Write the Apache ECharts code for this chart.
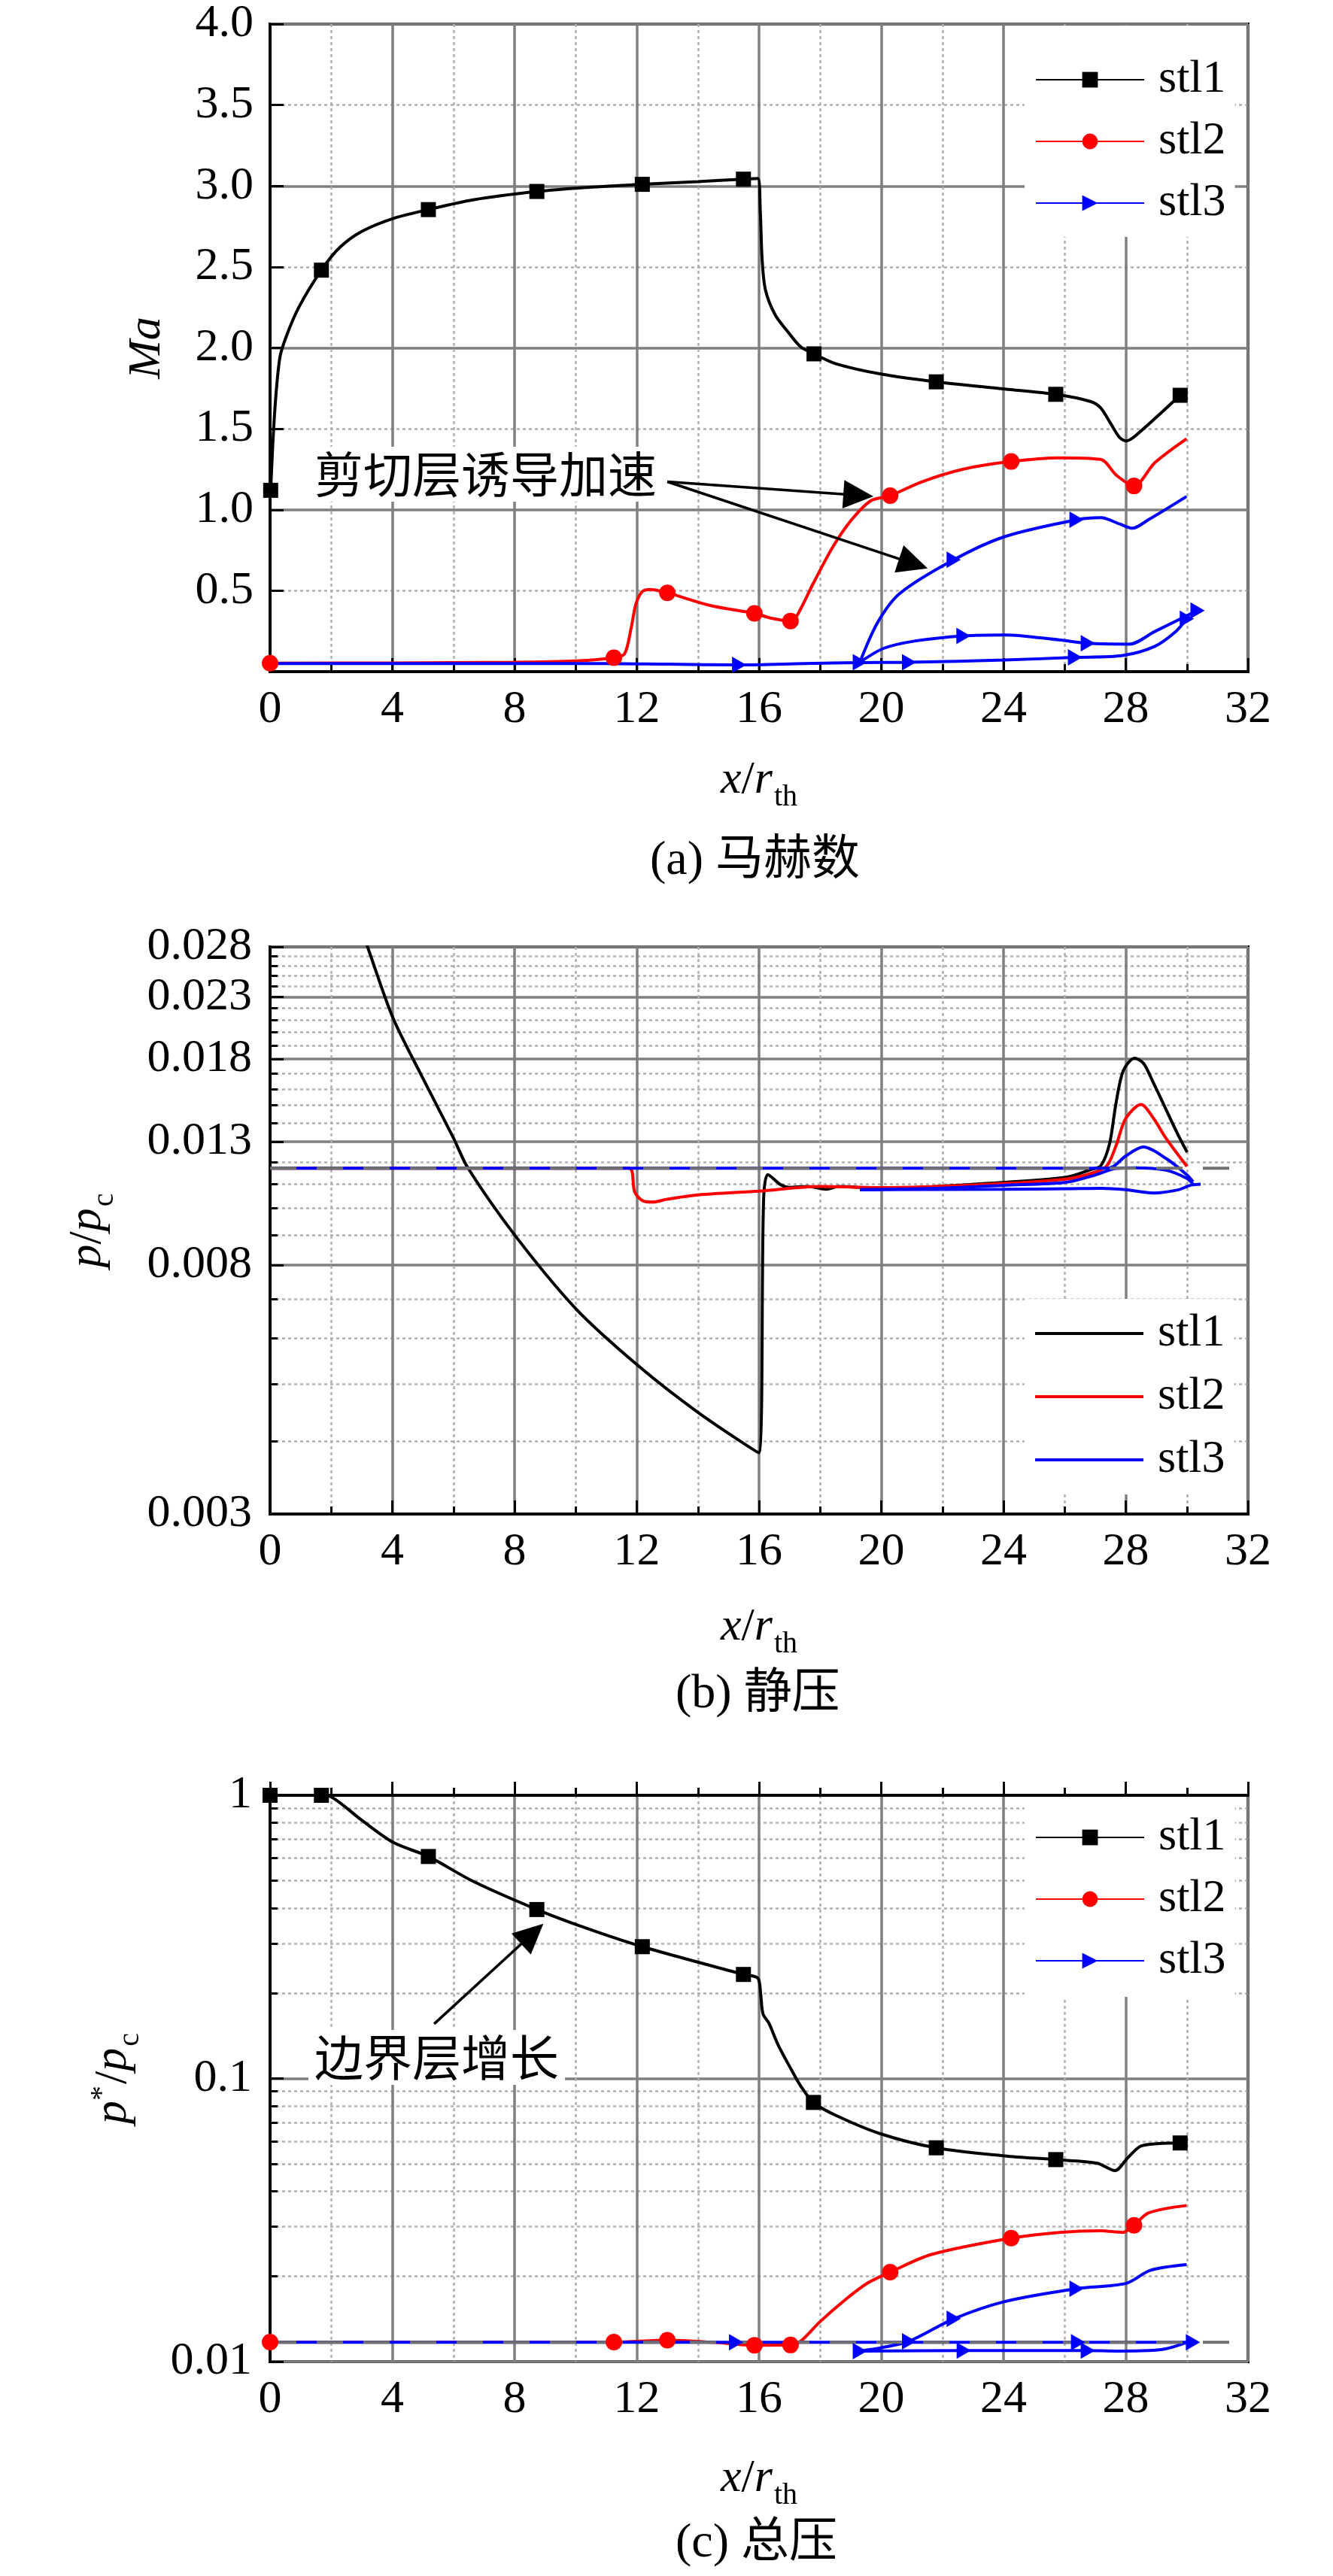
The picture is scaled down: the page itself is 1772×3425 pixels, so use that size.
<!DOCTYPE html>
<html>
<head>
<meta charset="UTF-8">
<title>stl Ma / p / p*</title>
<script src="https://cdn.jsdelivr.net/npm/echarts@6/dist/echarts.min.js"></script>
<style>html,body{margin:0;padding:0;background:#fff}</style>
</head>
<body>
<div id="main" style="width:1772px;height:3425px"></div>
<script type="text/javascript">
// ---------- (a) Ma ----------
var maStl1 = [[0.02,1.12],[0.15,1.6],[0.32,1.94],[0.53,2.07],[0.94,2.25],[1.68,2.48],[2.28,2.62],[3.01,2.72],[4.04,2.8],[5.18,2.854],[6.64,2.914],[8.73,2.966],[10.26,2.99],[12.18,3.01],[14.0,3.027],[15.49,3.042],[15.96,3.047],[16.04,2.85],[16.1,2.55],[16.21,2.358],[16.53,2.203],[16.95,2.098],[17.36,2.007],[17.8,1.963],[18.51,1.902],[20.02,1.837],[21.8,1.79],[24.04,1.746],[25.71,1.713],[26.86,1.668],[27.18,1.629],[27.49,1.538],[27.8,1.446],[28.01,1.425],[28.33,1.459],[29.78,1.707]];
var maStl1Mk = [[0.02,1.12],[1.68,2.48],[5.18,2.854],[8.73,2.966],[12.18,3.01],[15.49,3.042],[17.8,1.963],[21.8,1.79],[25.71,1.713],[29.78,1.707]];
var maStl2 = [[0,0.052],[4,0.054],[8,0.058],[10,0.066],[11.25,0.086],[11.6,0.11],[11.82,0.274],[11.97,0.417],[12.18,0.495],[12.44,0.508],[13.0,0.487],[14.4,0.409],[15.85,0.36],[16.4,0.33],[17.03,0.313],[17.26,0.352],[17.78,0.547],[18.41,0.769],[19.03,0.938],[19.66,1.056],[20.29,1.087],[21.33,1.173],[22.69,1.251],[24.25,1.298],[25.82,1.321],[27.18,1.311],[27.7,1.212],[28.27,1.147],[28.95,1.29],[29.99,1.438]];
var maStl2Mk = [[0,0.052],[11.25,0.086],[13.0,0.487],[15.85,0.36],[17.03,0.313],[20.29,1.087],[24.25,1.298],[28.27,1.147]];
var maStl3a = [[0,0.05],[6,0.05],[11,0.05],[13,0.046],[15.35,0.042],[17.5,0.05],[19.3,0.056],[20.91,0.058],[24.04,0.072],[26.34,0.088],[27.9,0.1],[28.95,0.156],[29.65,0.25],[30.0,0.326]];
var maStl3b = [[19.3,0.058],[20.08,0.144],[21.12,0.19],[22.69,0.221],[24.04,0.227],[25.82,0.196],[26.76,0.175],[28.12,0.17],[28.95,0.248],[30.35,0.378]];
var maStl3c = [[19.3,0.058],[19.87,0.3],[20.6,0.482],[22.37,0.691],[24.04,0.834],[26.39,0.938],[27.18,0.951],[27.8,0.912],[28.22,0.886],[28.74,0.938],[29.99,1.082]];
var maStl3Mk = [[15.35,0.042],[19.3,0.058],[20.91,0.058],[26.34,0.088],[30.0,0.326],[30.35,0.378],[26.76,0.175],[22.69,0.221],[22.37,0.691],[26.39,0.938]];
var maYLabels = [0.5,1,1.5,2,2.5,3,3.5,4];
var maArrowFrom = [13.0,1.173];
var maArrowTo = [[19.25,1.089],[21.05,0.667]];

// ---------- (b) p/pc ----------
var pStl1 = [[3.0,0.0298],[3.19,0.028],[4.01,0.02124],[4.95,0.01689],[5.99,0.01323],[6.48,0.01171],[8.02,0.00898],[10.0,0.00674],[12.03,0.00539],[14.01,0.004475],[15.99,0.00382],[16.15,0.01036],[16.29,0.01142],[16.7,0.01098],[17.0,0.01086],[17.6,0.0109],[18.2,0.01078],[18.6,0.0109],[20.0,0.01081],[24.02,0.01108],[26.04,0.0113],[26.86,0.01165],[27.18,0.01182],[27.47,0.0129],[27.68,0.01512],[27.92,0.0172],[28.29,0.01806],[28.58,0.0177],[28.91,0.01637],[29.32,0.01475],[29.69,0.01343],[30.01,0.01247]];
var pStl2 = [[0,0.01171],[11.75,0.01171],[11.93,0.01067],[12.2,0.0103],[12.53,0.01025],[12.97,0.01036],[14.01,0.01054],[15.99,0.0107],[18,0.0109],[20,0.01085],[24.02,0.01103],[26.04,0.01122],[26.86,0.01147],[27.37,0.0118],[27.68,0.01279],[28.0,0.01425],[28.5,0.01505],[28.91,0.01425],[29.32,0.01317],[30.0,0.0118]];
var pStl3a = [[0,0.01171],[27.3,0.01171],[27.6,0.0118],[28.0,0.01229],[28.58,0.01273],[29.32,0.01217],[30.0,0.01141],[30.2,0.0111]];
var pStl3b = [[19.3,0.01076],[22,0.01083],[24.02,0.01095],[26.04,0.01108],[27.0,0.0114],[27.68,0.0117],[28.3,0.01173],[29.32,0.01162],[30.0,0.01125],[30.2,0.011]];
var pStl3c = [[19.3,0.01076],[24.02,0.01078],[26.04,0.0108],[27.2,0.01082],[28.0,0.01076],[28.9,0.01062],[29.7,0.01075],[30.14,0.01096],[30.45,0.011]];
var pRef = [[0,0.01171],[32,0.01171]];
var pMajor = [0.003,0.008,0.013,0.018,0.023,0.028];
var pMinor = [0.004,0.005,0.006,0.007,0.009,0.010,0.011,0.012,0.014,0.015,0.016,0.017,0.019,0.020,0.021,0.022,0.024,0.025,0.026,0.027];

// ---------- (c) p*/pc ----------
var ptStl1 = [[0,1.0],[1.68,1.0],[1.97,0.991],[3.01,0.815],[4.04,0.681],[5.18,0.608],[6.64,0.497],[8.73,0.395],[10.26,0.342],[12.18,0.292],[15.49,0.233],[15.96,0.226],[16.05,0.2],[16.13,0.169],[16.32,0.157],[16.63,0.131],[17.05,0.1078],[17.36,0.0942],[17.78,0.0823],[18.51,0.0741],[19.97,0.0638],[21.8,0.0569],[24.04,0.0533],[25.71,0.0517],[27.07,0.0502],[27.65,0.0473],[28.06,0.0524],[28.53,0.0579],[29.78,0.0592]];
var ptStl1Mk = [[0,1.0],[1.68,1.0],[5.18,0.608],[8.73,0.395],[12.18,0.292],[15.49,0.233],[17.78,0.0823],[21.8,0.0569],[25.71,0.0517],[29.78,0.0592]];
var ptStl2 = [[0,0.01172],[11.25,0.01172],[13.0,0.0119],[14.5,0.0117],[15.85,0.01143],[17.03,0.01145],[17.36,0.0118],[17.99,0.01382],[18.82,0.01654],[19.55,0.01894],[20.29,0.0207],[21.64,0.0239],[24.25,0.0273],[25.82,0.0286],[27.18,0.029],[27.9,0.0286],[28.27,0.0303],[28.74,0.0335],[29.99,0.0356]];
var ptStl2Mk = [[0,0.01172],[11.25,0.01172],[13.0,0.0119],[15.85,0.01143],[17.03,0.01145],[20.29,0.0207],[24.25,0.0273],[28.27,0.0303]];
var ptStl3a = [[0,0.0117],[15.25,0.0117],[26.44,0.0117],[30.2,0.0117]];
var ptStl3b = [[19.3,0.0109],[22.7,0.01094],[26.76,0.01094],[27.7,0.0109],[28.5,0.01092],[29.3,0.0111],[30.0,0.0117]];
var ptStl3c = [[19.3,0.0109],[20.0,0.0112],[20.91,0.0118],[22.37,0.01416],[24.04,0.0163],[26.39,0.0181],[28.01,0.0189],[28.8,0.021],[29.99,0.022]];
var ptStl3Mk = [[15.25,0.0117],[19.3,0.0109],[20.91,0.0118],[22.37,0.01416],[22.7,0.01094],[26.39,0.0181],[26.44,0.0117],[26.76,0.01094],[30.2,0.0117]];
var ptRef = [[0,0.0117],[32,0.0117]];
var ptMajor = [0.01,0.1,1];
var ptMinor = [0.02,0.03,0.04,0.05,0.06,0.07,0.08,0.09,0.2,0.3,0.4,0.5,0.6,0.7,0.8,0.9];
var ptArrowFrom = [5.37,0.1559];
var ptArrowTo = [8.58,0.324];

var SERIF = "'Liberation Serif', 'Times New Roman', serif";
var MIXED = "'Liberation Serif', 'Noto Sans CJK SC', serif";
var GRID_LINE = '#7f7f7f';
var DOT_LINE = '#b0b0b0';
var ARROW = 'path://M0,0L10,5L0,10Z';

function lg(v) { return Math.log10(v); }
function toLog(arr) { return arr.map(function (p) { return [p[0], Math.log10(p[1])]; }); }

var nameRich = {
    i: { fontFamily: SERIF, fontStyle: 'italic', fontSize: 62, color: '#000' },
    n: { fontFamily: SERIF, fontSize: 62, color: '#000' },
    s: { fontFamily: SERIF, fontSize: 40, color: '#000', padding: [44, 0, 0, 2] },
    u: { fontFamily: SERIF, fontSize: 40, color: '#000', padding: [0, 2, 30, 0] }
};

function xAxisFor(i, gap) {
    return {
        type: 'value', gridIndex: i, min: 0, max: 32, interval: 4,
        axisLine: { lineStyle: { color: '#000', width: 4 } },
        axisTick: { inside: true, length: 18, lineStyle: { color: '#000', width: 3 } },
        minorTick: { show: true, splitNumber: 2, length: 10, lineStyle: { color: '#000', width: 3 } },
        axisLabel: { fontFamily: SERIF, fontSize: 62, color: '#000', margin: 20 },
        splitLine: { show: true, lineStyle: { color: GRID_LINE, width: 3.5 } },
        minorSplitLine: { show: true, lineStyle: { color: DOT_LINE, width: 2.5, type: [4, 4] } },
        name: '{i|x}{n|/}{i|r}{s|th}', nameLocation: 'middle', nameGap: gap,
        nameTextStyle: { rich: nameRich }
    };
}

// log panels: value axis on log10 values, major + minor tick lists
function logAxes(i, lo, hi, major, minor, fmt, name, gap) {
    return [{
        type: 'value', gridIndex: i, position: 'left', min: lg(lo), max: lg(hi),
        axisLine: { lineStyle: { color: '#000', width: 4 } },
        axisTick: { inside: true, length: 18, customValues: major.map(lg), lineStyle: { color: '#000', width: 3 } },
        axisLabel: { customValues: major.map(lg), formatter: fmt, fontFamily: SERIF, fontSize: 62, color: '#000', margin: 24 },
        splitLine: { show: true, lineStyle: { color: GRID_LINE, width: 3.5 } },
        name: name, nameLocation: 'middle', nameGap: gap,
        nameTextStyle: { rich: nameRich }
    }, {
        type: 'value', gridIndex: i, position: 'left', min: lg(lo), max: lg(hi),
        axisLine: { show: false },
        axisTick: { inside: true, length: 10, customValues: minor.map(lg), lineStyle: { color: '#000', width: 3 } },
        axisLabel: { show: false },
        splitLine: { show: true, lineStyle: { color: DOT_LINE, width: 2.5, type: [4, 4] } }
    }];
}

function curve(name, xi, yi, data, color, symbol, size, z) {
    return {
        name: name, type: 'line', xAxisIndex: xi, yAxisIndex: yi, data: data,
        symbol: symbol, symbolSize: size, showSymbol: false, smooth: 0.3,
        clip: true, silent: true, z: z || 2,
        lineStyle: { color: color, width: 4 }, itemStyle: { color: color }
    };
}
function marks(name, xi, yi, data, color, symbol, size) {
    return {
        name: name, type: 'scatter', xAxisIndex: xi, yAxisIndex: yi, data: data,
        symbol: symbol, symbolSize: size, silent: true, z: 4,
        itemStyle: { color: color, opacity: 1 }
    };
}

var legendText = { fontFamily: SERIF, fontSize: 62, color: '#000', lineHeight: 64, padding: [0, 0, 0, 14] };
function legendBox(top, pad, gap, icon) {
    var lgd = {
        orient: 'vertical', left: 1362, top: top, itemWidth: 144, itemHeight: 26, itemGap: gap,
        padding: pad, backgroundColor: '#fff', textStyle: legendText, selectedMode: false,
        data: ['stl1', 'stl2', 'stl3']
    };
    if (icon) lgd.icon = icon;
    return lgd;
}

var annoStyle = { fontFamily: "'Noto Sans CJK SC', sans-serif", fontSize: 65, fontWeight: 'normal', color: '#000' };
var capStyle = { fontFamily: MIXED, fontSize: 64, fontWeight: 'normal', color: '#000', lineHeight: 64 };

var yB = logAxes(1, 0.003, 0.028, pMajor, pMinor, function (v) { return Math.pow(10, v).toFixed(3); }, '{i|p}{n|/}{i|p}{s|c}', 200);
var yC = logAxes(2, 0.01, 1, ptMajor, ptMinor, function (v) { return String(+Math.pow(10, v).toPrecision(3)); }, '{i|p}{u|*}{n|/}{i|p}{s|c}', 166);

var arrowLine = {
    silent: true, symbol: ['none', 'triangle'], symbolSize: [38, 40],
    lineStyle: { color: '#000', width: 3.5, type: 'solid' }, label: { show: false }
};

var option = {
    backgroundColor: '#fff',
    animation: false,
    title: [
        { text: '(a) 马赫数', left: 864, top: 1113, padding: 0, textStyle: capStyle },
        { text: '(b) 静压', left: 898, top: 2221, padding: 0, textStyle: capStyle },
        { text: '(c) 总压', left: 898, top: 3350, padding: 0, textStyle: capStyle },
        { text: '剪切层诱导加速', left: 410, top: 594, padding: [4, 8, 4, 8], backgroundColor: '#fff', textStyle: annoStyle },
        { text: '边界层增长', left: 410, top: 2699, padding: [4, 8, 4, 8], backgroundColor: '#fff', textStyle: annoStyle }
    ],
    legend: [
        legendBox(34, [40, 12, 13, 14], 18),
        legendBox(1727, [14, 12, 14, 14], 20, 'path://M0,0L144,0L144,4L0,4Z'),
        legendBox(2389, [22, 12, 16, 14], 18)
    ],
    grid: [
        { left: 359, top: 32, width: 1300, height: 861, show: true, borderColor: '#000', borderWidth: 4, backgroundColor: 'transparent', outerBoundsMode: 'none' },
        { left: 359, top: 1259, width: 1300, height: 754, show: true, borderColor: '#000', borderWidth: 4, backgroundColor: 'transparent', outerBoundsMode: 'none' },
        { left: 359, top: 2387, width: 1300, height: 753, show: true, borderColor: '#000', borderWidth: 4, backgroundColor: 'transparent', outerBoundsMode: 'none' }
    ],
    xAxis: [xAxisFor(0, 103), xAxisFor(1, 109), xAxisFor(2, 114)],
    yAxis: [{
        type: 'value', gridIndex: 0, min: 0, max: 4, interval: 1,
        axisLine: { lineStyle: { color: '#000', width: 4 } },
        axisTick: { inside: true, length: 18, lineStyle: { color: '#000', width: 3 } },
        minorTick: { show: true, splitNumber: 2, length: 18, lineStyle: { color: '#000', width: 3 } },
        axisLabel: { customValues: maYLabels, formatter: function (v) { return v.toFixed(1); }, fontFamily: SERIF, fontSize: 62, color: '#000', margin: 22 },
        splitLine: { show: true, lineStyle: { color: GRID_LINE, width: 3.5 } },
        minorSplitLine: { show: true, lineStyle: { color: DOT_LINE, width: 2.5, type: [4, 4] } },
        name: '{i|Ma}', nameLocation: 'middle', nameGap: 132, nameTextStyle: { rich: nameRich }
    }, yB[0], yB[1], yC[0], yC[1]],
    series: [
        // (a)
        curve('stl1', 0, 0, maStl1, '#000', 'rect', 20),
        curve('stl2', 0, 0, maStl2, '#ff0000', 'circle', 22),
        curve('stl3', 0, 0, maStl3a, '#0000ff', ARROW, 20),
        curve('stl3', 0, 0, maStl3b, '#0000ff', ARROW, 20),
        curve('stl3', 0, 0, maStl3c, '#0000ff', ARROW, 20),
        (function () {
            var s = marks('stl1', 0, 0, maStl1Mk, '#000', 'rect', 20);
            s.markLine = Object.assign({}, arrowLine, {
                data: maArrowTo.map(function (t) { return [{ coord: maArrowFrom }, { coord: t }]; })
            });
            return s;
        })(),
        marks('stl2', 0, 0, maStl2Mk, '#ff0000', 'circle', 22),
        marks('stl3', 0, 0, maStl3Mk, '#0000ff', ARROW, [19, 22]),
        // (b)
        curve('stl1', 1, 1, toLog(pStl1), '#000', 'none', 0),
        curve('stl2', 1, 1, toLog(pStl2), '#ff0000', 'none', 0),
        curve('stl3', 1, 1, toLog(pStl3a), '#0000ff', 'none', 0),
        curve('stl3', 1, 1, toLog(pStl3b), '#0000ff', 'none', 0),
        curve('stl3', 1, 1, toLog(pStl3c), '#0000ff', 'none', 0),
        {
            name: 'ref', type: 'line', xAxisIndex: 1, yAxisIndex: 1, data: toLog(pRef), symbol: 'none',
            silent: true, z: 3, lineStyle: { color: '#707070', width: 4, type: [35, 27] }
        },
        // (c)
        curve('stl1', 2, 3, toLog(ptStl1), '#000', 'rect', 20),
        curve('stl2', 2, 3, toLog(ptStl2), '#ff0000', 'circle', 22),
        curve('stl3', 2, 3, toLog(ptStl3a), '#0000ff', ARROW, 20),
        curve('stl3', 2, 3, toLog(ptStl3b), '#0000ff', ARROW, 20),
        curve('stl3', 2, 3, toLog(ptStl3c), '#0000ff', ARROW, 20),
        {
            name: 'ref', type: 'line', xAxisIndex: 2, yAxisIndex: 3, data: toLog(ptRef), symbol: 'none',
            silent: true, z: 3, lineStyle: { color: '#707070', width: 4, type: [35, 27] }
        },
        (function () {
            var s = marks('stl1', 2, 3, toLog(ptStl1Mk), '#000', 'rect', 20);
            s.markLine = Object.assign({}, arrowLine, {
                data: [[{ coord: [ptArrowFrom[0], lg(ptArrowFrom[1])] }, { coord: [ptArrowTo[0], lg(ptArrowTo[1])] }]]
            });
            return s;
        })(),
        marks('stl2', 2, 3, toLog(ptStl2Mk), '#ff0000', 'circle', 22),
        marks('stl3', 2, 3, toLog(ptStl3Mk), '#0000ff', ARROW, [19, 22])
    ]
};

var myChart = echarts.init(document.getElementById('main'));
myChart.setOption(option);
</script>
</body>
</html>
